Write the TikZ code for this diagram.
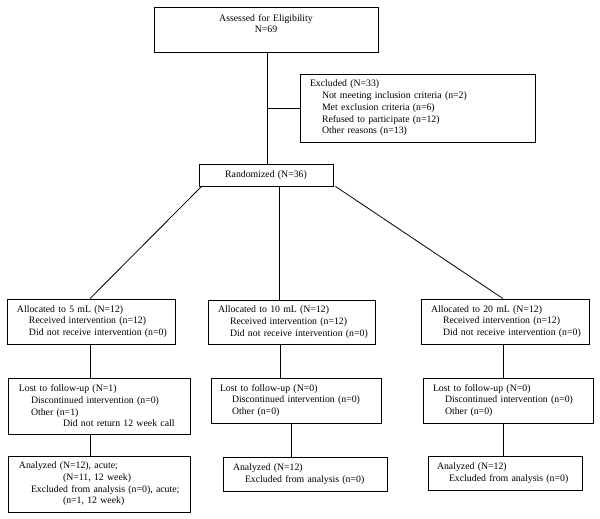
\documentclass[tikz,border=0pt]{standalone}
\usepackage{fontspec}
\setmainfont{Liberation Serif}
\begin{document}
\begin{tikzpicture}[x=1pt,y=-1pt,
  every node/.style={font=\fontsize{9.8}{11.7}\selectfont},
  bx/.style={draw, line width=0.8pt, rectangle, inner ysep=0pt, inner xsep=2pt, anchor=center, align=left},
  conn/.style={line width=0.8pt}]
\useasboundingbox (0,0) rectangle (600,519);
\newcommand{\hs}[1]{\hspace*{#1pt}}
% boxes
\node[bx, align=center, minimum width=224pt, minimum height=45pt, text width=220pt] (top) at (266,29.5) {Assessed for Eligibility\\N=69\\~};
\node[bx, minimum width=235pt, minimum height=68pt, text width=231pt] (excl) at (417.5,108) {\hs{8}Excluded (N=33)\\\hs{20}Not meeting inclusion criteria (n=2)\\\hs{20}Met exclusion criteria (n=6)\\\hs{20}Refused to participate (n=12)\\\hs{20}Other reasons (n=13)};
\node[bx, align=center, minimum width=134pt, minimum height=22pt, text width=130pt] (rand) at (266,175) {Randomized (N=36)};
\node[bx, minimum width=168pt, minimum height=45pt, text width=164pt] (a5) at (91,321.5) {\hs{8}Allocated to 5 mL (N=12)\\\hs{20}Received intervention (n=12)\\\hs{20}Did not receive intervention (n=0)};
\node[bx, minimum width=167pt, minimum height=44pt, text width=163pt] (a10) at (291.5,322) {\hs{8}Allocated to 10 mL (N=12)\\\hs{20}Received intervention (n=12)\\\hs{20}Did not receive intervention (n=0)};
\node[bx, minimum width=168pt, minimum height=45pt, text width=164pt] (a20) at (505,321.5) {\hs{8}Allocated to 20 mL (N=12)\\\hs{20}Received intervention (n=12)\\\hs{20}Did not receive intervention (n=0)};
\node[bx, minimum width=182pt, minimum height=56pt, text width=178pt] (l5) at (99,406) {\hs{9}Lost to follow-up (N=1)\\\hs{21}Discontinued intervention (n=0)\\\hs{21}Other (n=1)\\\hs{53}Did not return 12 week call};
\node[bx, minimum width=170pt, minimum height=45pt, text width=166pt] (l10) at (296,400.5) {\hs{7}Lost to follow-up (N=0)\\\hs{19}Discontinued intervention (n=0)\\\hs{19}Other (n=0)};
\node[bx, minimum width=170pt, minimum height=45pt, text width=166pt] (l20) at (508,400.5) {\hs{8}Lost to follow-up (N=0)\\\hs{20}Discontinued intervention (n=0)\\\hs{20}Other (n=0)};
\node[bx, minimum width=182pt, minimum height=56pt, text width=178pt] (n5) at (99,484) {\hs{9}Analyzed (N=12), acute;\\\hs{53}(N=11, 12 week)\\\hs{21}Excluded from analysis (n=0), acute;\\\hs{53}(n=1, 12 week)};
\node[bx, minimum width=164pt, minimum height=34pt, text width=160pt] (n10) at (305,474) {\hs{8}Analyzed (N=12)\\\hs{20}Excluded from analysis (n=0)};
\node[bx, minimum width=154pt, minimum height=34pt, text width=150pt] (n20) at (505,473) {\hs{7}Analyzed (N=12)\\\hs{19}Excluded from analysis (n=0)};
% guide coordinates
\coordinate (cx) at (267,0);
\coordinate (c5) at (90,0);
\coordinate (cm) at (279.5,0);
\coordinate (c10) at (280,0);
\coordinate (c10b) at (291,0);
\coordinate (c20) at (503,0);
% connectors
\draw[conn] (top.south -| cx) -- (rand.north -| cx);
\draw[conn] (excl.west -| cx) -- (excl.west);
\draw[conn] ([xshift=3pt]rand.south west) -- (a5.north -| c5);
\draw[conn] (rand.south -| cm) -- (a10.north -| cm);
\draw[conn] ([xshift=2pt]rand.south east) -- (a20.north -| c20);
\draw[conn] (a5.south -| c5) -- (l5.north -| c5);
\draw[conn] (l5.south -| c5) -- (n5.north -| c5);
\draw[conn] (a10.south -| c10) -- (l10.north -| c10);
\draw[conn] (l10.south -| c10b) -- (n10.north -| c10b);
\draw[conn] (a20.south -| c20) -- (l20.north -| c20);
\draw[conn] (l20.south -| c20) -- (n20.north -| c20);
\end{tikzpicture}
\end{document}
